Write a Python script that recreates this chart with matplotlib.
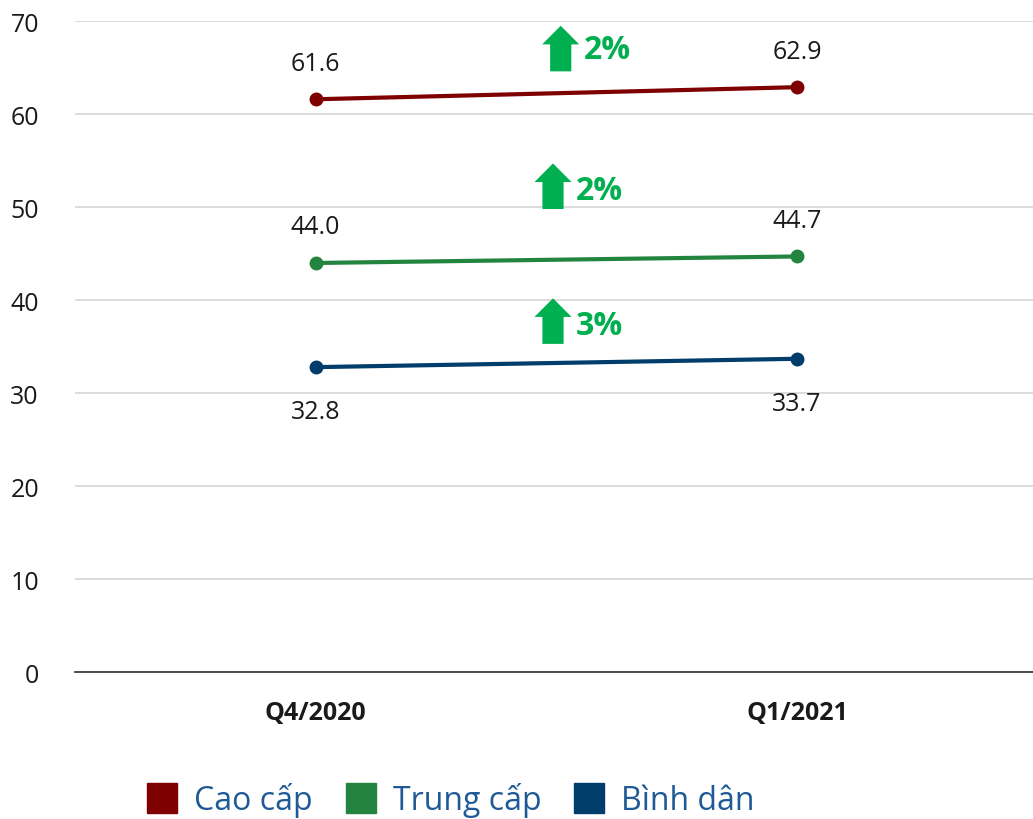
import matplotlib
matplotlib.use("Agg")
from matplotlib import pyplot as plt
from matplotlib.lines import Line2D
from matplotlib.patches import FancyArrow

periods = ["Q4/2020", "Q1/2021"]
series_names = ["Cao cấp", "Trung cấp", "Bình dân"]
cao_cap = [61.6, 62.9]
trung_cap = [44.0, 44.7]
binh_dan = [32.8, 33.7]
growth_labels = ["2%", "2%", "3%"]

colors = ["#7F0000", "#23843F", "#003D6B"]
arrow_green = "#00B050"

plt.rcParams["font.family"] = ["Open Sans", "DejaVu Sans"]

fig = plt.figure(figsize=(10.33, 8.2), dpi=100)
ax = fig.add_axes([0.0726, 0.179, 0.932, 0.794])

x = [0, 1]
all_series = [cao_cap, trung_cap, binh_dan]
for vals, c in zip(all_series, colors):
    ax.plot(x, vals, color=c, lw=3, marker="o", ms=9, solid_capstyle="round", zorder=3)

# value labels: above for the top two lines, below for the bottom one
for vals, below in zip(all_series, [False, False, True]):
    for xi, v in zip(x, vals):
        dy = -32 if below else 26
        ax.annotate(f"{v:.1f}", (xi, v), xytext=(0, dy), textcoords="offset points",
                    ha="center", va="center", fontsize=18, color="#1a1a1a")

# growth arrows
arrow_spec = [(0.509, 64.6, 0.556, 66.9), (0.493, 49.8, 0.54, 51.8), (0.493, 35.3, 0.54, 37.3)]
for (ax_x, ay, tx, ty), lab in zip(arrow_spec, growth_labels):
    ax.add_patch(FancyArrow(ax_x, ay, 0, 4.9, width=0.044, head_width=0.077,
                            head_length=2.0, length_includes_head=True,
                            color=arrow_green, lw=0, zorder=4))
    ax.text(tx, ty, lab, ha="left", va="center", fontsize=23, fontweight="bold",
            color=arrow_green)

ax.set_xlim(-0.5, 1.5)
ax.set_ylim(0, 70)
ax.set_yticks(range(0, 71, 10))
ax.set_xticks(x)
ax.set_xticklabels(periods, fontsize=18, fontweight="bold", color="#1a1a1a")
ax.tick_params(axis="y", labelsize=18, labelcolor="#1a1a1a", length=0, pad=26)
ax.tick_params(axis="x", length=0, pad=20)
ax.grid(axis="y", color="#D9D9D9", lw=1.3)
ax.set_axisbelow(True)
for s in ["top", "right", "left"]:
    ax.spines[s].set_visible(False)
ax.spines["bottom"].set_color("#404040")
ax.spines["bottom"].set_linewidth(1.3)

handles = [Line2D([], [], ls="", marker="s", ms=22, color=c) for c in colors]
leg = fig.legend(handles, series_names, loc="center", bbox_to_anchor=(0.436, 0.024),
                 ncol=3, frameon=False, fontsize=23, handletextpad=0.5, columnspacing=1.0,
                 handlelength=1.0)
for t in leg.get_texts():
    t.set_color("#1F5A96")

fig.savefig("out.png", dpi=100)
